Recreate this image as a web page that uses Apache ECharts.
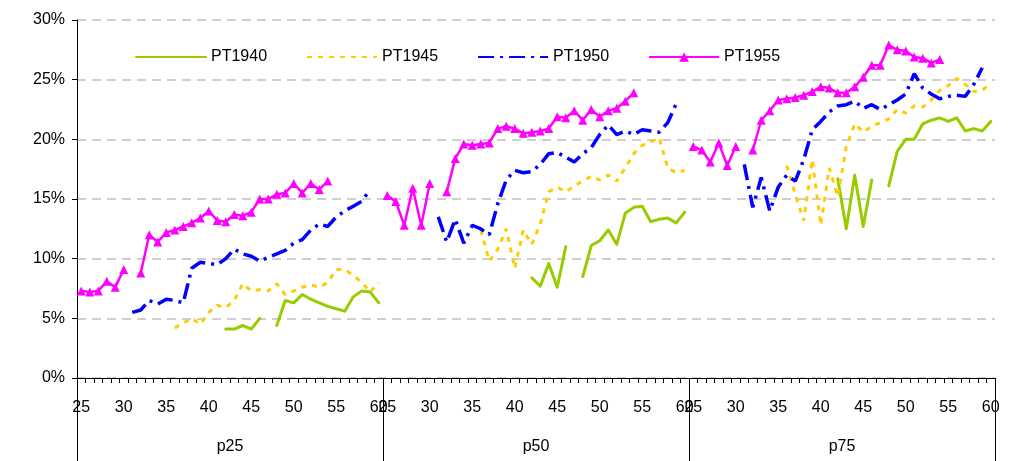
<!DOCTYPE html>
<html>
<head>
<meta charset="utf-8">
<script src="https://cdn.jsdelivr.net/npm/echarts@6/dist/echarts.min.js"></script>
<style>
html,body{margin:0;padding:0;background:#fff;}
#chart{width:1033px;height:461px;}
</style>
</head>
<body>
<div id="chart"></div>
<script>
// ---- DATA (percent values, one array per cohort per percentile group, ages 25..60) ----
const groups = ['p25', 'p50', 'p75'];
const ages = [25,26,27,28,29,30,31,32,33,34,35,36,37,38,39,40,41,42,43,44,45,46,47,48,49,50,51,52,53,54,55,56,57,58,59,60];
const seriesNames = ['PT1940', 'PT1945', 'PT1950', 'PT1955'];
const yTicks = [0, 5, 10, 15, 20, 25, 30];

const pt1940_p25 = [null,null,null,null,null,null,null,null,null,null,null,null,null,null,null,null,null,
  4.1,4.1,4.4,4.1,5.0,null,4.4,6.5,6.3,7.0,6.6,6.3,6.0,5.8,5.6,6.8,7.3,7.2,6.3];
const pt1940_p50 = [null,null,null,null,null,null,null,null,null,null,null,null,null,null,null,null,null,
  8.4,7.7,9.6,7.6,11.0,null,8.5,11.1,11.5,12.4,11.2,13.8,14.3,14.4,13.1,13.3,13.4,13.0,13.9];
const pt1940_p75 = [null,null,null,null,null,null,null,null,null,null,null,null,null,null,null,null,null,
  16.7,12.5,17.0,12.7,16.6,null,16.1,19.0,20.0,20.0,21.3,21.6,21.8,21.5,21.8,20.7,20.9,20.7,21.5];

const pt1945_p25 = [null,null,null,null,null,null,null,null,null,null,null,
  4.2,4.6,5.0,4.5,5.5,6.1,5.9,6.5,7.9,7.3,7.4,7.3,7.9,7.0,7.3,7.6,7.8,7.6,8.0,9.1,9.1,8.6,8.0,7.2,8.0];
const pt1945_p50 = [null,null,null,null,null,null,null,null,null,null,null,
  12.4,9.8,10.8,12.5,9.2,12.4,11.2,12.9,15.6,16.0,15.6,16.1,16.5,16.9,16.6,17.0,16.5,17.6,18.8,19.5,19.8,20.1,17.6,17.2,17.4];
const pt1945_p75 = [null,null,null,null,null,null,null,null,null,null,null,
  17.8,15.4,13.2,18.3,12.8,17.6,15.2,19.4,21.3,20.6,21.1,21.4,21.7,22.5,22.2,22.8,22.7,23.3,24.1,24.5,25.1,24.6,24.0,24.1,24.7];

const pt1950_p25 = [null,null,null,null,null,null,
  5.5,5.7,6.5,6.2,6.6,6.5,6.3,9.2,9.7,9.6,9.5,10.0,10.8,10.4,10.2,9.8,10.1,10.4,10.7,11.3,11.6,12.4,12.9,12.7,13.5,14.0,14.4,14.8,15.8,null];
const pt1950_p50 = [null,null,null,null,null,null,
  13.5,11.4,13.3,11.3,12.8,12.5,12.0,14.6,16.6,17.4,17.2,17.3,17.9,18.8,18.9,18.5,18.1,18.8,19.3,20.4,21.2,20.4,20.7,20.4,20.8,20.7,20.6,21.4,23.0,null];
const pt1950_p75 = [null,null,null,null,null,null,
  17.9,14.3,16.8,14.0,16.0,17.0,16.5,18.3,20.8,21.5,22.3,22.8,22.9,23.2,22.6,22.9,22.5,22.9,23.3,23.8,25.5,24.3,23.8,23.4,23.6,23.7,23.6,24.6,26.0,null];

const pt1955_p25 = [7.3,7.2,7.3,8.1,7.6,9.1,null,
  8.8,12.0,11.4,12.2,12.4,12.7,13.0,13.4,14.0,13.2,13.1,13.7,13.6,13.9,15.0,15.0,15.4,15.5,16.3,15.5,16.3,15.8,16.5,
  null,null,null,null,null,null];
const pt1955_p50 = [15.3,14.8,12.8,15.9,12.8,16.3,null,
  15.6,18.4,19.6,19.5,19.6,19.7,20.9,21.1,20.9,20.5,20.6,20.7,20.9,21.9,21.8,22.4,21.6,22.5,21.9,22.4,22.6,23.2,23.9,
  null,null,null,null,null,null];
const pt1955_p75 = [19.4,19.1,18.1,19.7,17.8,19.4,null,
  19.1,21.6,22.4,23.3,23.4,23.5,23.7,24.0,24.4,24.3,23.9,23.9,24.4,25.2,26.2,26.2,27.9,27.5,27.4,26.9,26.8,26.4,26.7,
  null,null,null,null,null,null];

// ---- build categories / series ----
const categories = [];
groups.forEach(g => ages.forEach(a => categories.push(g + '|' + a)));
const join = (a, b, c) => a.concat(b, c);
const data1940 = join(pt1940_p25, pt1940_p50, pt1940_p75);
const data1945 = join(pt1945_p25, pt1945_p50, pt1945_p75);
const data1950 = join(pt1950_p25, pt1950_p50, pt1950_p75);
const data1955 = join(pt1955_p25, pt1955_p50, pt1955_p75);

const FONT = '"Liberation Sans", Arial, sans-serif';
const chart = echarts.init(document.getElementById('chart'), null, {renderer: 'canvas'});

chart.setOption({
  animation: false,
  backgroundColor: '#ffffff',
  textStyle: {fontFamily: FONT, color: '#000'},
  grid: {left: 77, right: 38, top: 20, bottom: 83, containLabel: false},
  legend: {
    left: 130, top: 44,
    itemWidth: 70, itemHeight: 12, itemGap: 39,
    textStyle: {fontFamily: FONT, fontSize: 16, color: '#000'},
    data: [
      {name: seriesNames[0], itemStyle: {opacity: 0}},
      {name: seriesNames[1], itemStyle: {opacity: 0}},
      {name: seriesNames[2], itemStyle: {opacity: 0}},
      {name: seriesNames[3]}
    ]
  },
  xAxis: [{
    type: 'category',
    data: categories,
    boundaryGap: true,
    axisLine: {show: true, lineStyle: {color: '#000', width: 1}},
    axisTick: {show: true, interval: 0, length: 5, lineStyle: {color: '#000', width: 1}},
    axisLabel: {
      interval: function (idx) { return (idx % 36) % 5 === 0; },
      formatter: function (v) { return v.split('|')[1]; },
      margin: 22, fontSize: 16, fontFamily: FONT, color: '#000', hideOverlap: false
    },
    splitLine: {show: false}
  }, {
    type: 'category',
    data: groups,
    position: 'bottom',
    boundaryGap: true,
    axisLine: {show: false},
    axisTick: {show: true, interval: 0, length: 83, lineStyle: {color: '#000', width: 1}},
    axisLabel: {margin: 61, fontSize: 16, fontFamily: FONT, color: '#000'},
    splitLine: {show: false}
  }],
  yAxis: {
    type: 'value',
    min: yTicks[0], max: yTicks[yTicks.length - 1], interval: 5,
    axisLine: {show: true, lineStyle: {color: '#000', width: 1}},
    axisTick: {show: true, length: 5, lineStyle: {color: '#000'}},
    axisLabel: {formatter: '{value}%', fontSize: 16, fontFamily: FONT, color: '#000', margin: 12},
    splitLine: {show: true, lineStyle: {color: '#c0c0c0', type: [9, 6], width: 1.5}}
  },
  series: [{
    name: 'PT1940', type: 'line', data: data1940, xAxisIndex: 0,
    symbol: 'none', connectNulls: false,
    lineStyle: {color: '#99CC00', width: 3, cap: 'round', join: 'round'},
    itemStyle: {color: '#99CC00'}
  }, {
    name: 'PT1945', type: 'line', data: data1945, xAxisIndex: 0,
    symbol: 'none', connectNulls: false,
    lineStyle: {color: '#FFCC00', width: 3, type: [5, 6]},
    itemStyle: {color: '#FFCC00'}
  }, {
    name: 'PT1950', type: 'line', data: data1950, xAxisIndex: 0,
    symbol: 'none', connectNulls: false,
    lineStyle: {color: '#0000FF', width: 3.5, type: [16, 6, 3, 6]},
    itemStyle: {color: '#0000FF'}
  }, {
    name: 'PT1955', type: 'line', data: data1955, xAxisIndex: 0,
    symbol: 'triangle', symbolSize: 9, showAllSymbol: true, connectNulls: false,
    lineStyle: {color: '#FF00FF', width: 2.5},
    itemStyle: {color: '#FF00FF'}
  }]
});
</script>
</body>
</html>
